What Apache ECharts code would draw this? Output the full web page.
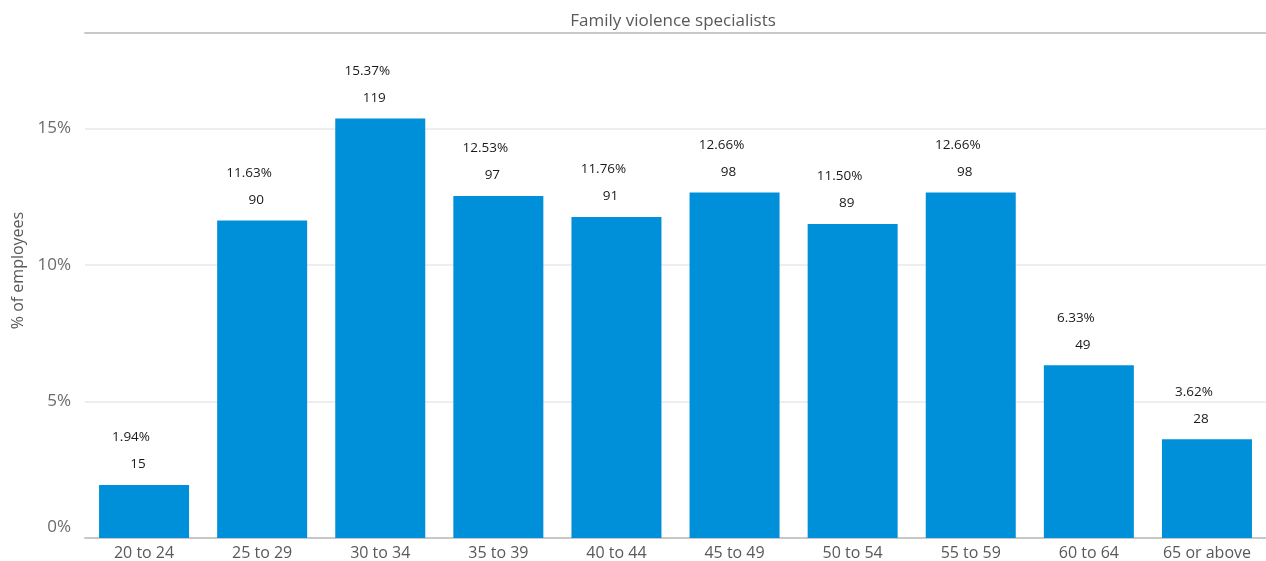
<!DOCTYPE html>
<html>
<head>
<meta charset="utf-8">
<style>
  html, body { margin: 0; padding: 0; background: #fff; }
  #chart { width: 1266px; height: 561px; }
</style>
<script src="https://cdn.jsdelivr.net/npm/echarts@6/dist/echarts.min.js"></script>
</head>
<body>
<div id="chart"></div>
<script>
// Age groups of family violence specialists
const categories = ['20 to 24', '25 to 29', '30 to 34', '35 to 39', '40 to 44', '45 to 49', '50 to 54', '55 to 59', '60 to 64', '65 or above'];
// Share of employees (%) in each age group
const percentages = [1.94, 11.63, 15.37, 12.53, 11.76, 12.66, 11.50, 12.66, 6.33, 3.62];
// Headcount in each age group
const counts = [15, 90, 119, 97, 91, 98, 89, 98, 49, 28];
// Value axis ticks
const yTicks = [0, 5, 10, 15];

const FONT = '"Open Sans", "Noto Sans", sans-serif';
const chart = echarts.init(document.getElementById('chart'), null, { renderer: 'canvas' });

chart.setOption({
  animation: false,
  title: {
    text: 'Family violence specialists',
    left: 668, top: 8, textAlign: 'center',
    textStyle: { fontFamily: FONT, fontSize: 17, fontWeight: 'normal', color: '#595959' }
  },
  grid: { left: 85, right: 0, top: 33, bottom: 23 },
  xAxis: [{
    type: 'category',
    data: categories,
    axisLine: { lineStyle: { color: '#c8c8c8', width: 2 } },
    axisTick: { show: false },
    axisLabel: { fontFamily: FONT, fontSize: 16, color: '#595959', margin: 7, interval: 0 }
  }, {
    type: 'category',
    position: 'top',
    data: categories,
    axisLine: { lineStyle: { color: '#c8c8c8', width: 2 } },
    axisTick: { show: false },
    axisLabel: { show: false }
  }],
  yAxis: {
    type: 'value',
    min: 0, max: 18.5, interval: 5,
    name: '% of employees',
    nameLocation: 'middle',
    nameGap: 58,
    nameTextStyle: { fontFamily: FONT, fontSize: 16, color: '#595959', padding: [0, 0, 0, 30] },
    axisLine: { show: false },
    axisTick: { show: false },
    axisLabel: {
      fontFamily: FONT, fontSize: 17, color: '#6b6b6b', margin: 14,
      showMaxLabel: false,
      // the zero label sits just above the baseline
      formatter: v => (v === 0 ? '{z|0%}' : (yTicks.indexOf(v) >= 0 ? v + '%' : '')),
      rich: {
        z: { fontFamily: FONT, fontSize: 17, color: '#6b6b6b', padding: [0, 0, 22, 0] }
      }
    },
    splitLine: { showMaxLine: false, showMinLine: false, lineStyle: { color: '#eeeeee', width: 2 } }
  },
  series: [{
    type: 'bar',
    data: percentages,
    barWidth: 90,
    itemStyle: { color: '#0090da' },
    label: {
      show: true,
      position: 'top',
      distance: 7,
      offset: [-6, 0],
      formatter: p => '{pct|' + percentages[p.dataIndex].toFixed(2) + '%}\n{cnt|' + counts[p.dataIndex] + '}',
      rich: {
        pct: { fontFamily: FONT, fontSize: 13.5, color: '#1a1a1a', lineHeight: 27, padding: [0, 14, 0, 0] },
        cnt: { fontFamily: FONT, fontSize: 13.5, color: '#1a1a1a', lineHeight: 27 }
      }
    }
  }]
});
</script>
</body>
</html>
